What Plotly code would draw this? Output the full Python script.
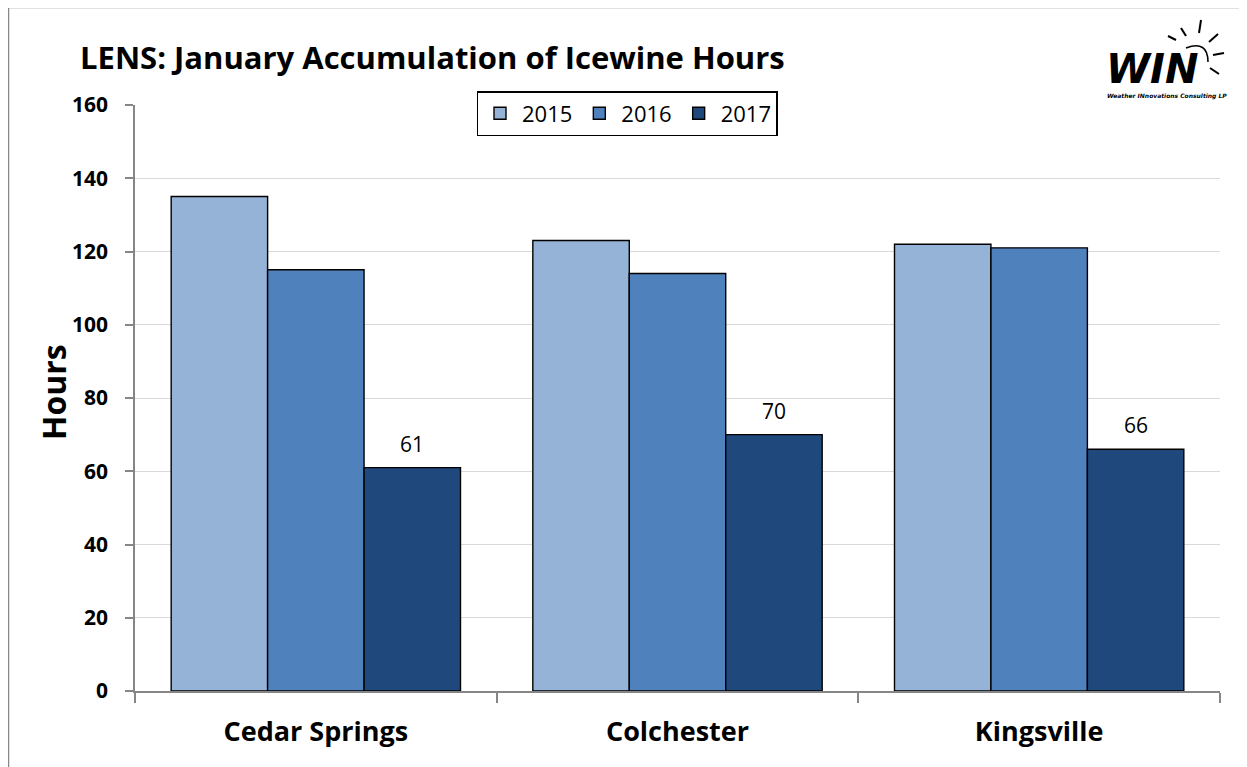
import plotly.graph_objects as go

sites = ["Cedar Springs", "Colchester", "Kingsville"]
years = ["2015", "2016", "2017"]
hours_2015 = [135, 123, 122]
hours_2016 = [115, 114, 121]
hours_2017 = [61, 70, 66]
colors = ["#95B3D7", "#4F81BD", "#1F497D"]
y_ticks = [0, 20, 40, 60, 80, 100, 120, 140, 160]

OFF = 8  # page offset of the figure
W, H = 1239, 759
L, T = 135 - OFF, 105 - OFF
R = W - (1220 - OFF)
B = H - (691 - OFF)
PW, PH = W - L - R, H - T - B

def px(x):
    return (x - OFF - L) / PW

def py(y):
    return 1 - (y - OFF - T) / PH

FONT = "Open Sans"
fig = go.Figure()
series = [hours_2015, hours_2016, hours_2017]
for i, (yr, vals) in enumerate(zip(years, series)):
    fig.add_trace(go.Bar(
        x=sites, y=vals, name=yr,
        marker=dict(color=colors[i], line=dict(color="black", width=1.4)),
    ))

# data labels for 2017 (third bar in each group)
bar_w = PW / 3 * 0.8 / 3
for s, v in zip(sites, hours_2017):
    fig.add_annotation(x=s, y=v, xref="x", yref="y", text=str(v), showarrow=False,
                       xshift=bar_w, yshift=24, yanchor="middle",
                       font=dict(size=21, family=FONT, color="black"))

fig.update_layout(
    width=W, height=H,
    margin=dict(l=L, r=R, t=T, b=B),
    paper_bgcolor="white", plot_bgcolor="white",
    barmode="group", bargap=0.2, bargroupgap=0,
    font=dict(family=FONT, color="black"),
    showlegend=True,
    legend=dict(
        orientation="h", x=px(627), y=py(91), xanchor="center", yanchor="top",
        bordercolor="black", borderwidth=1.5, bgcolor="white",
        font=dict(size=22, family=FONT), itemwidth=34, traceorder="normal",
    ),
    xaxis=dict(
        showline=True, linecolor="#868686", linewidth=1.5,
        ticks="outside", ticklen=10, tickcolor="#868686", tickwidth=1.5,
        tickson="boundaries",
        tickfont=dict(size=27, family=FONT, color="black", weight="bold"),
        ticklabelstandoff=16,
    ),
    yaxis=dict(
        range=[0, 160], tickvals=y_ticks,
        showline=True, linecolor="#868686", linewidth=1.5,
        ticks="outside", ticklen=8, tickcolor="#868686", tickwidth=1.5,
        showgrid=True, gridcolor="#D9D9D9", gridwidth=1,
        zeroline=False,
        tickfont=dict(size=21, family=FONT, color="black", weight="bold"),
        ticklabelstandoff=13,
    ),
)

# Y-axis title
fig.add_annotation(
    text="<b>Hours</b>", xref="paper", yref="paper", x=px(53), y=py(392),
    xanchor="center", yanchor="middle", textangle=-90, showarrow=False,
    font=dict(size=32, family=FONT, color="black"),
)

# Title
fig.add_annotation(
    text="<b>LENS: January Accumulation of Icewine Hours</b>",
    xref="paper", yref="paper", x=px(78), y=py(57),
    xanchor="left", yanchor="middle", showarrow=False,
    font=dict(size=31, family=FONT, color="black"),
)

# Outer frame
fig.add_shape(type="rect", xref="paper", yref="paper",
              x0=px(8.5), y0=py(800), x1=px(1300), y1=py(7.5),
              line=dict(color="#888888", width=1.5), layer="below")

# Logo
fig.add_annotation(
    text="<b><i>WIN</i></b>", xref="paper", yref="paper",
    x=px(1152), y=py(69), xanchor="center", yanchor="middle", showarrow=False,
    font=dict(size=40, family="DejaVu Sans", color="black"),
)
fig.add_annotation(
    text="<b><i>Weather INnovations Consulting LP</i></b>", xref="paper", yref="paper",
    x=px(1167), y=py(96), xanchor="center", yanchor="middle", showarrow=False,
    font=dict(size=6, family="DejaVu Sans", color="black"),
)
fig.add_shape(type="path", xref="paper", yref="paper",
              path=f"M {px(1186)} {py(48)} Q {px(1208)} {py(40)} {px(1208)} {py(62)}",
              line=dict(color="black", width=1.5))
rays = [((1186, 36), (1181, 28)), ((1199, 33), (1201, 20)), ((1209, 42), (1218, 34)),
        ((1213, 55), (1224, 53)), ((1210, 68), (1219, 74)), ((1176, 40), (1168, 36))]
for (x0, y0), (x1, y1) in rays:
    fig.add_shape(type="line", xref="paper", yref="paper",
                  x0=px(x0), y0=py(y0), x1=px(x1), y1=py(y1),
                  line=dict(color="black", width=2))

fig.write_html("out.html")
